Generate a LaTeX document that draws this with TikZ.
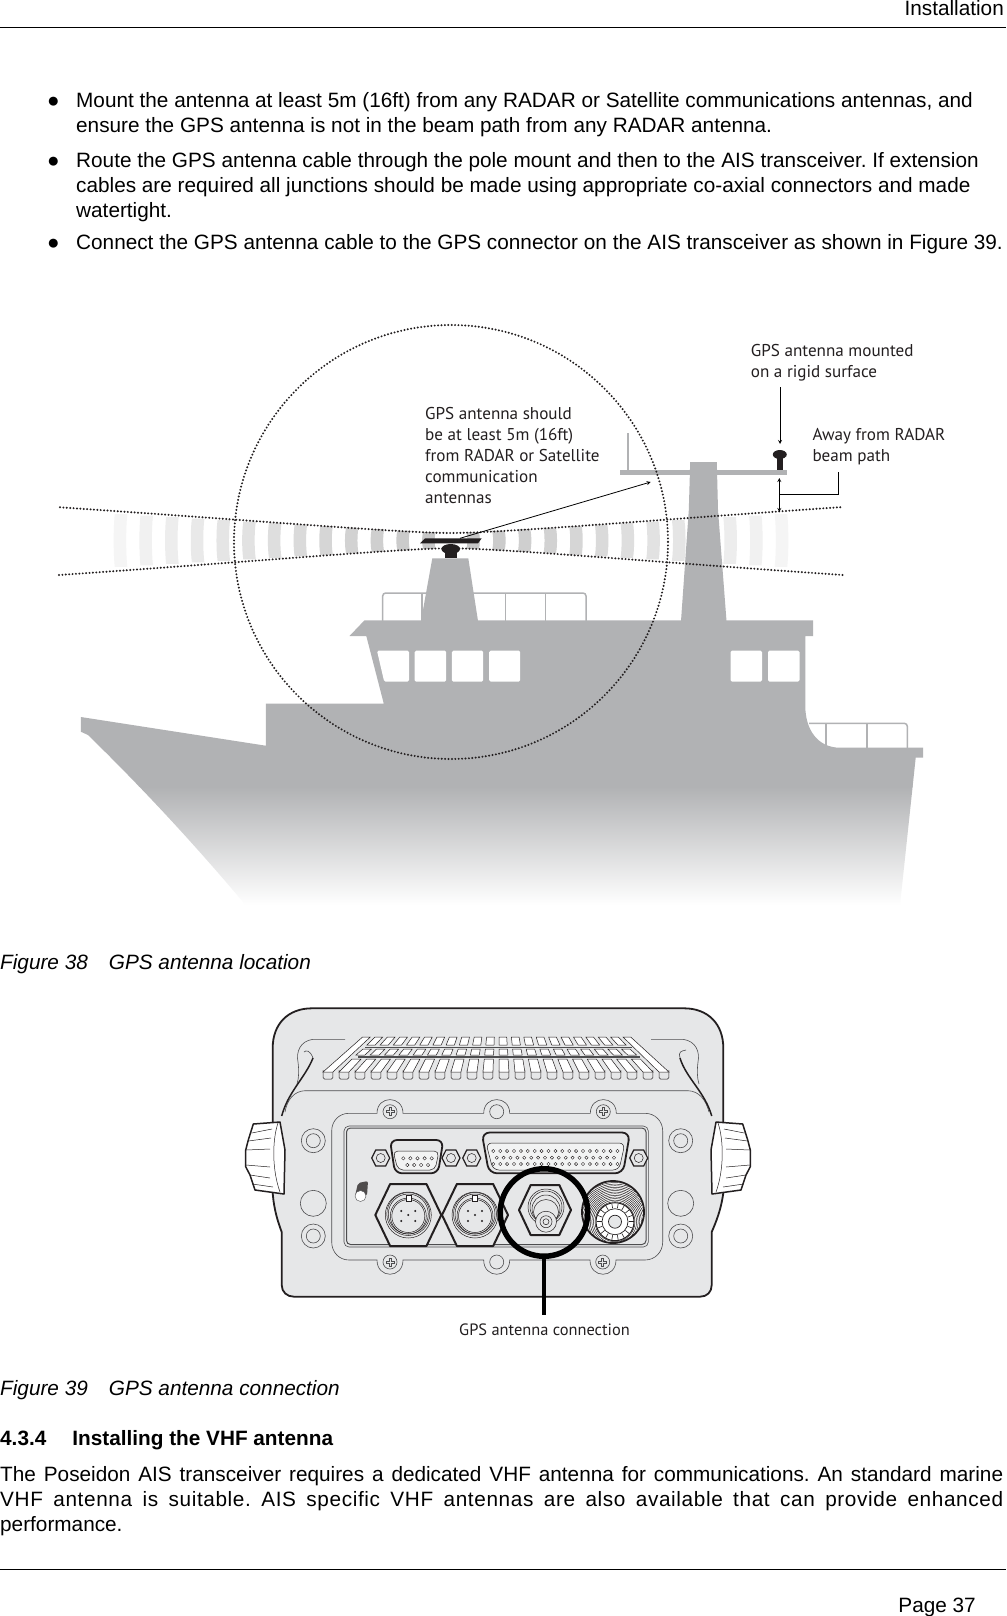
\documentclass[tikz,border=0pt]{standalone}
\usepackage{fontspec}
\usetikzlibrary{calc}
\setmainfont{Liberation Sans}
\newfontfamily\labelfont{PT Sans}
\definecolor{shipgray}{HTML}{B1B2B4}
\definecolor{unitgray}{HTML}{E6E7E8}
\definecolor{inkblack}{HTML}{231F20}
\definecolor{thinline}{HTML}{4D4D4F}
\frenchspacing
\tikzset{
  bodytext/.style={anchor=base west,inner sep=0pt,font=\fontsize{20.76}{25}\selectfont},
  figlabel/.style={anchor=north west,inner sep=0pt,align=left,text=inkblack,font=\labelfont\fontsize{17.1}{21.1}\selectfont},
  dotline/.style={line width=2.2pt,line cap=round,dash pattern=on 0pt off 3.4pt,inkblack},
  unitline/.style={draw=thinline,line width=0.6pt},
  railline/.style={draw=shipgray,line width=1.5pt},
  hexbody/.style={draw=inkblack,line width=2pt,fill=unitgray,line join=round},
  pinhole/.style={draw=inkblack,line width=0.4pt,fill=white}
}
\newcommand{\hexpath}[4]{(#1-#3,#2) -- (#1-#3*0.55,#2-#4) -- (#1+#3*0.55,#2-#4) -- (#1+#3,#2) -- (#1+#3*0.55,#2+#4) -- (#1-#3*0.55,#2+#4) -- cycle}
\def\shippath{(80.8,717) -- (265.8,745.7) -- (265.8,703.7) -- (383.8,703.7) -- (366.3,636) -- (349.5,636) -- (364.5,620.3) -- (813,620.3) -- (813,636) -- (805.3,636) -- (805.3,706) .. controls (805.3,730) and (818,747.7) .. (840,747.7) -- (923,747.7) -- (923,757.7) -- (915.7,757.7) -- (900,905) -- (245.6,905) .. controls (222,877) and (165,810) .. (88,735) -- (80.8,731.7) -- cycle}
\begin{document}
\begin{tikzpicture}[x=1pt,y=-1pt]
\useasboundingbox (0,0) rectangle (1006,1616);
\fill[white] (0,0) rectangle (1006,1616);

% page header and footer
\node[bodytext,anchor=base east] (headtitle) at (1004,16) {Installation};
\draw[line width=1pt] (0,27.3) -- (1006,27.3);
\draw[line width=1pt] (0,1569.5) -- (1006,1569.5);
\node[bodytext,anchor=base east] (pagenum) at (976,1612) {Page 37};

% bullets
\node[bodytext] (bulletA) at (47,108) {●};
\node[bodytext] (lineA1) at (76,108) {Mount the antenna at least 5m (16ft) from any RADAR or Satellite communications antennas, and};
\node[bodytext] (lineA2) at (76,133) {ensure the GPS antenna is not in the beam path from any RADAR antenna.};
\node[bodytext] (bulletB) at (47,167.5) {●};
\node[bodytext] (lineB1) at (76,167.5) {Route the GPS antenna cable through the pole mount and then to the AIS transceiver. If extension};
\node[bodytext] (lineB2) at (76,192.5) {cables are required all junctions should be made using appropriate co-axial connectors and made};
\node[bodytext] (lineB3) at (76,217.5) {watertight.};
\node[bodytext] (bulletC) at (47,249.5) {●};
\node[bodytext] (lineC1) at (76,249.5) {Connect the GPS antenna cable to the GPS connector on the AIS transceiver as shown in Figure 39.};

% radar beam bars
\foreach \side in {-1,1} {
  \foreach \k in {0,...,12} {
    \pgfmathsetmacro\barfade{22-1.5*\k}
    \pgfmathsetmacro\bardist{15.3+25.7*\k}
    \pgfmathsetmacro\barhalf{7.5+0.0585*\bardist}
    \begin{scope}[shift={(451,540.5)},xscale=\side]
      \fill[black!\barfade] (\bardist,-\barhalf) .. controls (\bardist+1.5,-\barhalf/2) and (\bardist+1.5,\barhalf/2) .. (\bardist,\barhalf) -- (\bardist+12.5,\barhalf) .. controls (\bardist+14,\barhalf/2) and (\bardist+14,-\barhalf/2) .. (\bardist+12.5,-\barhalf) -- cycle;
    \end{scope}
  }
}

% ship
\draw[railline,rounded corners=3pt] (382.7,621) -- (382.7,593) -- (586,593) -- (586,621);
\foreach \railx in {422,505.3,545.5} { \draw[railline] (\railx,593) -- (\railx,621); }
\draw[railline,rounded corners=3pt] (809,723.3) -- (907.3,723.3) -- (907.3,748);
\foreach \railx in {826,867} { \draw[railline] (\railx,723.3) -- (\railx,748); }
\fill[shipgray] (432.3,558.3) -- (468.3,558.3) -- (478,621) -- (421,621) -- cycle;
\fill[shipgray] (690.2,462) -- (716.8,462) -- (718,510) -- (726.5,621) -- (681,621) -- (688.8,510) -- cycle;
\fill[shipgray] (620,470) rectangle (786.7,475);
\draw[draw=shipgray,line width=2pt] (628.3,433) -- (628.3,470);
\begin{scope}
  \clip \shippath;
  \fill[shipgray] (0,600) rectangle (1006,787);
  \shade[top color=shipgray,bottom color=white] (0,786.5) rectangle (1006,905);
\end{scope}
\fill[white,rounded corners=1.5pt] (377,650.7) -- (409,650.7) -- (409,681.7) -- (384.2,681.7) -- cycle;
\fill[white,rounded corners=1.5pt] (414.7,650.7) rectangle (446.2,681.7);
\fill[white,rounded corners=1.5pt] (451.8,650.7) rectangle (483.2,681.7);
\fill[white,rounded corners=1.5pt] (489.2,650.7) rectangle (520.2,681.7);
\fill[white,rounded corners=1.5pt] (730.5,650.7) rectangle (762,681.7);
\fill[white,rounded corners=1.5pt] (768,650.7) rectangle (799.5,681.7);

% beam edges and safety zone
\draw[dotline] (60,507.3) .. controls (250,520) and (400,533) .. (451,533) .. controls (502,533) and (652,520) .. (843,507);
\draw[dotline] (59,575) .. controls (250,562) and (400,548.3) .. (451,548.3) .. controls (502,548.3) and (652,562) .. (843,575);
\draw[dotline] (451,542) circle[radius=217];

% antennas
\fill[inkblack] (420,543.3) -- (425,538.3) -- (481.7,538.3) -- (478,543.3) -- cycle;
\fill[inkblack] (450.7,549) ellipse[x radius=9.3,y radius=5];
\fill[inkblack] (445,549) rectangle (456.7,558.3);
\fill[inkblack] (779.8,454.5) ellipse[x radius=7,y radius=4.5];
\fill[inkblack] (776.7,454) rectangle (782.7,470);

% callouts
\node[figlabel] (labelmounted) at (750.7,344) {GPS antenna mounted\\on a rigid surface};
\node[figlabel] (labelaway) at (812.3,428) {Away from RADAR\\beam path};
\node[figlabel] (labelshould) at (425,407) {GPS antenna should\\be at least 5m (16ft)\\from RADAR or Satellite\\communication\\antennas};
\coordinate (radarbar) at (460,538.3);
\coordinate (calloutend) at (650.7,482);
\coordinate (mountstart) at (780,387.3);
\coordinate (mountend) at (780,444);
\coordinate (gaptop) at (779.3,478);
\coordinate (gapbottom) at (779.3,512);
\coordinate (gapmid) at (779.3,494);
\coordinate (gapleader) at (838.7,472.3);
\draw[-stealth,line width=0.8pt] (radarbar) -- (calloutend);
\draw[-stealth,line width=0.8pt] (mountstart) -- (mountend);
\draw[stealth-stealth,line width=0.8pt] (gaptop) -- (gapbottom);
\draw[line width=0.8pt] (gapmid) -| (gapleader);

\node[bodytext,font=\itshape\fontsize{20.76}{25}\selectfont] (captionA) at (0,969) {Figure 38\hspace{21pt}GPS antenna location};

% transceiver body
\filldraw[fill=unitgray,draw=inkblack,line width=1.8pt] (272.7,1193) -- (272.7,1048) .. controls (272.7,1024) and (288,1008.3) .. (312,1008.3) -- (684,1008.3) .. controls (708,1008.3) and (723.3,1024) .. (723.3,1048) -- (723.3,1193) .. controls (721,1210) and (716,1222) .. (711.7,1232) -- (711.7,1285) .. controls (711.7,1292) and (707,1296.7) .. (700,1296.7) -- (294,1296.7) .. controls (287,1296.7) and (281.7,1292) .. (281.7,1285) -- (281.7,1232) .. controls (278,1222) and (274,1210) .. (272.7,1193) -- cycle;

% knobs
\foreach \knobx/\knobs in {0/1,996/-1} {
  \begin{scope}[shift={(\knobx,0)},xscale=\knobs]
    \filldraw[fill=white,draw=inkblack,line width=1.5pt,line join=round] (253.3,1124) -- (248.3,1140) -- (245.7,1150) -- (245.7,1166.7) -- (250,1175) -- (255,1190) -- (284,1194) -- (285,1150) -- (280,1122) -- cycle;
    \draw[line width=0.5pt,inkblack] (278.3,1122) .. controls (272,1140) and (272,1170) .. (280,1192);
    \draw[line width=0.5pt,inkblack] (251.7,1133) -- (272,1129);
    \draw[line width=0.5pt,inkblack] (248.3,1141) -- (271,1138);
    \draw[line width=0.5pt,inkblack] (246,1150) -- (270,1149);
    \draw[line width=0.5pt,inkblack] (246,1165) -- (270,1167);
    \draw[line width=0.5pt,inkblack] (250,1175) -- (270,1178);
    \draw[line width=0.5pt,inkblack] (252.3,1184) -- (273,1187);
  \end{scope}
}

% vents
\foreach \i in {-11,...,10} {
  \pgfmathtruncatemacro\ventlong{(\i==-11 || \i==10) ? 1 : 0}
  \filldraw[fill=unitgray,draw=inkblack,line width=0.5pt,rounded corners=1.5pt] ({499+\i*16},1070) -- ({499+\i*16},1079) -- ({499+(\i+0.62)*16},1079) -- ({499+(\i+0.62)*16},1070);
  \ifnum\ventlong=1
    \filldraw[fill=white,draw=inkblack,line width=0.5pt] ({499+\i*12.4},1037) -- ({499+(\i+0.62)*12.4},1037) -- ({499+(\i+0.62)*16},1072) -- ({499+\i*16},1072) -- cycle;
  \else
    \filldraw[fill=white,draw=inkblack,line width=0.5pt] ({499+\i*12.4},1037) -- ({499+(\i+0.62)*12.4},1037) -- ({499+(\i+0.62)*13.2},1045) -- ({499+\i*13.2},1045) -- cycle;
    \filldraw[fill=white,draw=inkblack,line width=0.5pt] ({499+\i*13.6},1049) -- ({499+(\i+0.62)*13.6},1049) -- ({499+(\i+0.62)*14.3},1055) -- ({499+\i*14.3},1055) -- cycle;
    \filldraw[fill=white,draw=inkblack,line width=0.5pt] ({499+\i*14.7},1059) -- ({499+(\i+0.62)*14.7},1059) -- ({499+(\i+0.62)*16},1072) -- ({499+\i*16},1072) -- cycle;
  \fi
}
\draw[draw=thinline,line width=1pt] (365,1047) -- (632,1047);
\draw[draw=thinline,line width=1.5pt] (358,1057) -- (640,1057);

% body contours
\draw[unitline] (345,1039.3) -- (313,1039.3) .. controls (300,1041) and (296,1052) .. (298,1062) .. controls (299,1070) and (299,1078) .. (297,1084);
\draw[unitline] (651,1039.3) -- (683,1039.3) .. controls (696,1041) and (700,1052) .. (698,1062) .. controls (697,1070) and (697,1078) .. (699,1084);
\draw[unitline] (285,1112) .. controls (287,1100) and (294,1091) .. (305,1090.7) -- (688,1090.7) .. controls (699,1091) and (706,1100) .. (709,1112);
\draw[unitline] (313,1058) .. controls (310,1050) and (306,1050) .. (304,1052);
\draw[unitline] (680,1058) .. controls (678,1052) and (681,1051) .. (686,1050);
\draw[inkblack,line width=1.5pt] (313,1058) .. controls (305,1078) and (288,1092) .. (281.7,1116);
\draw[inkblack,line width=1.5pt] (680,1058) .. controls (686,1078) and (705,1092) .. (711.7,1116);

% gasket outline with screw bumps
\draw[unitline] (349,1113.3) -- (377,1113.3) .. controls (377,1095) and (403,1095) .. (403,1113.3) -- (483.7,1113.3) .. controls (483.7,1095) and (509.7,1095) .. (509.7,1113.3) -- (590.3,1113.3) .. controls (590.3,1095) and (616.3,1095) .. (616.3,1113.3) -- (645,1113.3) .. controls (655,1113.3) and (662.7,1121) .. (662.7,1131) -- (662.7,1242) .. controls (662.7,1252) and (655,1260) .. (645,1260) -- (616,1260) .. controls (616,1279) and (590,1279) .. (590,1260) -- (509.7,1260) .. controls (509.7,1279) and (483.7,1279) .. (483.7,1260) -- (403,1260) .. controls (403,1279) and (377,1279) .. (377,1260) -- (349,1260) .. controls (339,1260) and (331.7,1252) .. (331.7,1242) -- (331.7,1131) .. controls (331.7,1121) and (339,1113.3) .. (349,1113.3) -- cycle;
\draw[unitline,rounded corners=5pt] (344,1126) rectangle (648.3,1247);
\draw[unitline,line width=1pt,rounded corners=4pt] (346.5,1128) rectangle (646,1244.5);

% screws and holes
\foreach \sx/\sy in {390/1111.7,603.3/1111.7,390/1262,602.7/1262} {
  \draw[unitline] (\sx,\sy) circle[radius=7];
  \draw[unitline] (\sx-4,\sy-1) -- (\sx-1,\sy-1) -- (\sx-1,\sy-4) -- (\sx+1,\sy-4) -- (\sx+1,\sy-1) -- (\sx+4,\sy-1) -- (\sx+4,\sy+1) -- (\sx+1,\sy+1) -- (\sx+1,\sy+4) -- (\sx-1,\sy+4) -- (\sx-1,\sy+1) -- (\sx-4,\sy+1) -- cycle;
}
\foreach \sx/\sy in {496.7/1111.7,496.7/1262} { \draw[unitline] (\sx,\sy) circle[radius=7]; }
\foreach \sx/\sy in {313.3/1140.7,313.3/1236,680.7/1140.7,680.7/1236} {
  \draw[unitline] (\sx,\sy) circle[radius=12];
  \draw[unitline] (\sx,\sy) circle[radius=7];
}
\foreach \sx in {313.3,680.7} { \draw[unitline] (\sx,1203.3) circle[radius=13]; }

% switch
\fill[inkblack!80,rounded corners=2pt] (358,1183) -- (368,1181) -- (367,1196) -- (355,1196) -- cycle;
\filldraw[fill=white,draw=thinline,line width=0.4pt] (360.5,1196) circle[radius=5.5];

% small D connector
\foreach \hx in {380.7,451,471.7,638.7} {
  \filldraw[fill=unitgray,draw=inkblack,line width=1.2pt] \hexpath{\hx}{1158}{9}{8};
  \draw[draw=inkblack,line width=0.5pt] (\hx,1158) circle[radius=4.5];
}
\filldraw[fill=unitgray,draw=inkblack,line width=1.8pt,rounded corners=7pt] (390,1140) -- (443.3,1140) -- (438,1173.3) -- (395,1173.3) -- cycle;
\filldraw[fill=unitgray!50,draw=inkblack,line width=0.5pt,rounded corners=5pt] (393,1151) -- (439,1151) -- (435,1170) -- (398,1170) -- cycle;
\foreach \p in {0,...,4} { \draw[pinhole] (403.3+7.1*\p,1158.3) circle[radius=1.7]; }
\foreach \p in {0,...,3} { \draw[pinhole] (407.3+6.9*\p,1165) circle[radius=1.7]; }

% large D connector
\filldraw[fill=unitgray,draw=inkblack,line width=1.8pt,rounded corners=8pt] (481.7,1132.5) -- (630,1132.5) -- (623,1173.3) -- (489,1173.3) -- cycle;
\filldraw[fill=unitgray!50,draw=inkblack,line width=0.5pt,rounded corners=6pt] (486,1143) -- (625,1143) -- (619,1170) -- (493,1170) -- cycle;
\foreach \p in {0,...,18} {
  \draw[pinhole] (493.3+6.9*\p,1151) circle[radius=1.6];
  \draw[pinhole] (493.3+6.9*\p,1164) circle[radius=1.6];
}
\foreach \p in {0,...,17} { \draw[pinhole] (496.7+6.9*\p,1157.7) circle[radius=1.6]; }

% round connectors
\foreach \cx in {408.3,475} {
  \filldraw[hexbody] \hexpath{\cx}{1215}{33}{31};
  \draw[draw=inkblack,line width=0.5pt] (\cx,1215) circle[radius=23];
  \draw[draw=inkblack,line width=0.5pt] (\cx,1214) circle[radius=21.5];
  \draw[draw=inkblack,line width=0.5pt] (\cx,1214) circle[radius=20];
  \draw[draw=inkblack,line width=0.5pt] (\cx,1216) circle[radius=18];
  \draw[draw=inkblack,line width=0.5pt] (\cx,1216) circle[radius=16.5];
  \filldraw[fill=white,draw=inkblack,line width=0.4pt] (\cx-2.5,1195) rectangle (\cx+2.5,1201);
  \foreach \dx/\dy in {-7/-5,7/-5,0/-1,-7/5,7/5} { \fill[inkblack] (\cx+\dx,1216+\dy) circle[radius=1.1]; }
}

% GPS socket
\filldraw[hexbody] \hexpath{545}{1210}{26}{25};
\draw[draw=inkblack,line width=0.5pt] (546,1207) circle[radius=18];
\draw[draw=inkblack,line width=0.5pt] (546,1207) circle[radius=16];
\draw[draw=inkblack,line width=0.5pt] (546,1209) circle[radius=14];
\draw[draw=inkblack,line width=0.5pt] (546,1212) circle[radius=12.5];
\filldraw[fill=unitgray,draw=inkblack,line width=0.5pt] (546,1221.7) circle[radius=10.5];
\draw[draw=inkblack,line width=0.5pt] (546,1221.7) circle[radius=6];
\draw[draw=inkblack,line width=0.5pt] (546,1221.7) circle[radius=3];

% VHF socket
\filldraw[fill=white,draw=inkblack,line width=1.8pt] (613,1212) circle[radius=31];
\begin{scope}
  \clip (613,1212) circle[radius=30];
  \foreach \r in {20,21.6,...,42} { \draw[draw=inkblack,line width=0.5pt] (615,1221.7) circle[radius=\r]; }
\end{scope}
\filldraw[fill=white,draw=inkblack,line width=1pt] (615,1221.7) circle[radius=19];
\foreach \a in {0,20,...,340} { \draw[draw=inkblack,line width=0.6pt] ($(615,1221.7)+(\a:13.5)$) -- ($(615,1221.7)+(\a:18.5)$); }
\filldraw[fill=white,draw=inkblack,line width=0.7pt] (615,1221.7) circle[radius=13];
\filldraw[fill=unitgray,draw=inkblack,line width=0.7pt] (615,1221.7) circle[radius=6.5];

% GPS callout
\node[circle,draw=black,line width=5.5pt,minimum size=87.5pt,inner sep=0pt] (gpsring) at (544,1212.5) {};
\node[figlabel,anchor=base,font=\labelfont\fontsize{16.4}{21.1}\selectfont] (labelconn) at (544.5,1335) {GPS antenna connection};
\coordinate (gpsleader) at (544,1315);
\draw[line width=4pt] (gpsring.south) -- (gpsleader);

% lower text
\node[bodytext,font=\itshape\fontsize{20.76}{25}\selectfont] (captionB) at (0,1395) {Figure 39\hspace{21pt}GPS antenna connection};
\node[bodytext,font=\bfseries\fontsize{20.76}{25}\selectfont] (sectionhead) at (0,1445) {4.3.4\hspace{26pt}Installing the VHF antenna};
\node[bodytext] (paraA) at (0,1481.7) {\makebox[1003pt][s]{The Poseidon AIS transceiver requires a dedicated VHF antenna for communications. An standard marine}};
\node[bodytext] (paraB) at (0,1506.7) {\addfontfeature{LetterSpace=3}\makebox[1003pt][s]{VHF antenna is suitable. AIS specific VHF antennas are also available that can provide enhanced}};
\node[bodytext] (paraC) at (0,1531.7) {performance.};
\end{tikzpicture}
\end{document}
